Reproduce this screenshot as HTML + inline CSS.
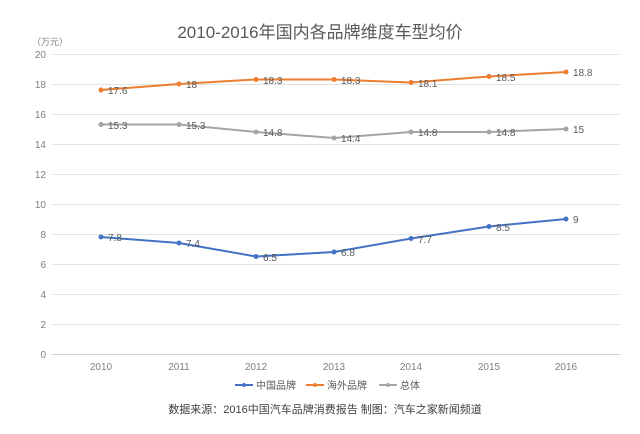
<!DOCTYPE html>
<html><head><meta charset="utf-8"><style>
body{margin:0;background:#fff;}
svg{display:block;font-family:"Liberation Sans","Noto Sans CJK SC",sans-serif;}
</style></head><body>
<svg width="640" height="434" viewBox="0 0 640 434">
<rect width="640" height="434" fill="#fff"/>
<text x="320" y="38" text-anchor="middle" font-size="17" fill="#595959">2010-2016年国内各品牌维度车型均价</text>
<text x="50" y="45" text-anchor="middle" font-size="9" fill="#7f7f7f">（万元）</text>
<g stroke="#e3e3e3" stroke-width="1">
<line x1="52" x2="620" y1="54.5" y2="54.5"/><line x1="52" x2="620" y1="84.5" y2="84.5"/>
<line x1="52" x2="620" y1="114.5" y2="114.5"/><line x1="52" x2="620" y1="144.5" y2="144.5"/>
<line x1="52" x2="620" y1="174.5" y2="174.5"/><line x1="52" x2="620" y1="204.5" y2="204.5"/>
<line x1="52" x2="620" y1="234.5" y2="234.5"/><line x1="52" x2="620" y1="264.5" y2="264.5"/>
<line x1="52" x2="620" y1="294.5" y2="294.5"/><line x1="52" x2="620" y1="324.5" y2="324.5"/>
</g>
<line x1="52" x2="620" y1="354.5" y2="354.5" stroke="#d0d0d0"/>
<g font-size="10" fill="#7f7f7f" text-anchor="end">
<text x="46" y="58">20</text><text x="46" y="88">18</text><text x="46" y="118">16</text>
<text x="46" y="148">14</text><text x="46" y="178">12</text><text x="46" y="208">10</text>
<text x="46" y="238">8</text><text x="46" y="268">6</text><text x="46" y="298">4</text>
<text x="46" y="328">2</text><text x="46" y="358">0</text>
</g>
<g font-size="10" fill="#7f7f7f" text-anchor="middle">
<text x="101" y="370">2010</text><text x="179" y="370">2011</text><text x="256" y="370">2012</text>
<text x="334" y="370">2013</text><text x="411" y="370">2014</text><text x="489" y="370">2015</text><text x="566" y="370">2016</text>
</g>
<g fill="none" stroke-width="2" stroke-linejoin="round">
<polyline stroke="#ed7d31" points="101,90 179,84 256,79.5 334,79.5 411,82.5 489,76.5 566,72"/>
<polyline stroke="#a5a5a5" points="101,124.5 179,124.5 256,132 334,138 411,132 489,132 566,129"/>
<polyline stroke="#4472c4" points="101,237 179,243 256,256.5 334,252 411,238.5 489,226.5 566,219"/>
</g>
<g fill="#ed7d31"><circle cx="101" cy="90" r="2.5"/><circle cx="179" cy="84" r="2.5"/><circle cx="256" cy="79.5" r="2.5"/><circle cx="334" cy="79.5" r="2.5"/><circle cx="411" cy="82.5" r="2.5"/><circle cx="489" cy="76.5" r="2.5"/><circle cx="566" cy="72" r="2.5"/></g>
<g fill="#a5a5a5"><circle cx="101" cy="124.5" r="2.5"/><circle cx="179" cy="124.5" r="2.5"/><circle cx="256" cy="132" r="2.5"/><circle cx="334" cy="138" r="2.5"/><circle cx="411" cy="132" r="2.5"/><circle cx="489" cy="132" r="2.5"/><circle cx="566" cy="129" r="2.5"/></g>
<g fill="#4472c4"><circle cx="101" cy="237" r="2.5"/><circle cx="179" cy="243" r="2.5"/><circle cx="256" cy="256.5" r="2.5"/><circle cx="334" cy="252" r="2.5"/><circle cx="411" cy="238.5" r="2.5"/><circle cx="489" cy="226.5" r="2.5"/><circle cx="566" cy="219" r="2.5"/></g>
<g font-size="10" fill="#595959">
<text x="108" y="94">17.6</text><text x="186" y="88">18</text><text x="263" y="84">18.3</text><text x="341" y="84">18.3</text><text x="418" y="87">18.1</text><text x="496" y="81">18.5</text><text x="573" y="76">18.8</text>
<text x="108" y="129">15.3</text><text x="186" y="129">15.3</text><text x="263" y="136">14.8</text><text x="341" y="142">14.4</text><text x="418" y="136">14.8</text><text x="496" y="136">14.8</text><text x="573" y="133">15</text>
<text x="108" y="241">7.8</text><text x="186" y="247">7.4</text><text x="263" y="261">6.5</text><text x="341" y="256">6.8</text><text x="418" y="243">7.7</text><text x="496" y="231">8.5</text><text x="573" y="223">9</text>
</g>
<g font-size="10" fill="#595959">
<line x1="235" x2="253" y1="385" y2="385" stroke="#4472c4" stroke-width="2"/><circle cx="244" cy="385" r="2" fill="#4472c4"/>
<text x="256" y="389">中国品牌</text>
<line x1="306" x2="324" y1="385" y2="385" stroke="#ed7d31" stroke-width="2"/><circle cx="315" cy="385" r="2" fill="#ed7d31"/>
<text x="327" y="389">海外品牌</text>
<line x1="379" x2="397" y1="385" y2="385" stroke="#a5a5a5" stroke-width="2"/><circle cx="388" cy="385" r="2" fill="#a5a5a5"/>
<text x="400" y="389">总体</text>
</g>
<text x="325" y="413" text-anchor="middle" font-size="11" fill="#404040">数据来源：2016中国汽车品牌消费报告  制图：汽车之家新闻频道</text>
</svg>
</body></html>
